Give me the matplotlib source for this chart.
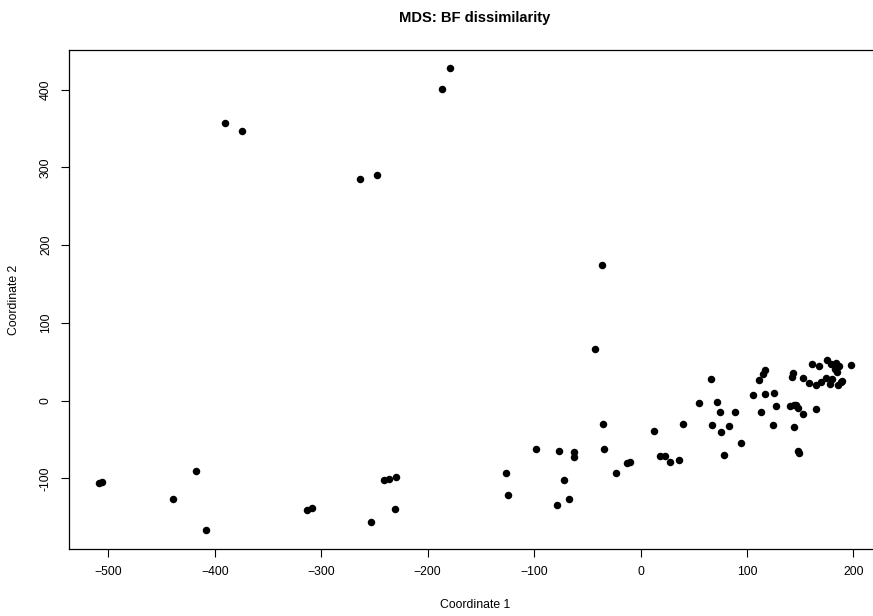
import matplotlib
matplotlib.use("Agg")
import matplotlib.pyplot as plt

# ---- MDS coordinates ----
coord1 = [-508.5, -506.0, -417.5, -439.0, -408.5, -313.0, -308.7, -253.0, -241.0, -236.7,
          -229.6, -230.8, -390.4, -374.7, -263.4, -247.7, -186.4, -179.4, -36.0, -43.0,
          -34.8, -98.4, -76.5, -62.1, -62.7, -34.3, -126.3, -124.7, -71.5, -66.8,
          -78.4, -23.0, -12.3, -9.5, 12.4, 39.9, 18.7, 23.0, 27.7, 36.5,
          78.8, 66.2, 54.9, 72.2, 74.4, 88.7, 67.1, 82.8, 76.0, 94.1,
          105.6, 111.0, 115.4, 117.0, 116.6, 125.4, 113.5, 127.2, 124.1, 142.0,
          142.9, 152.3, 158.0, 140.1, 143.9, 145.7, 147.9, 152.6, 165.2, 144.1,
          147.6, 149.2, 161.0, 168.0, 174.8, 178.9, 183.6, 187.0, 184.2, 183.0,
          197.7, 165.2, 169.9, 173.9, 180.2, 178.3, 185.2, 189.2, 188.0]
coord2 = [-106.0, -104.0, -91.0, -127.0, -167.0, -140.0, -138.5, -156.5, -101.5, -100.5,
          -98.5, -139.0, 356.6, 347.0, 285.5, 290.5, 401.4, 427.3, 174.0, 67.0,
          -29.5, -62.0, -65.0, -66.3, -72.7, -62.8, -92.8, -121.4, -102.6, -126.6,
          -134.2, -92.8, -80.4, -78.6, -38.5, -30.0, -71.3, -71.3, -78.6, -76.0,
          -69.7, 28.0, -2.6, -1.3, -14.1, -15.0, -31.4, -32.6, -40.2, -54.2,
          7.6, 27.0, 34.1, 39.2, 8.0, 9.7, -14.1, -6.9, -30.8, 30.7,
          35.4, 28.6, 23.0, -6.9, -6.0, -6.0, -9.0, -17.5, -10.3, -34.0,
          -64.9, -67.8, 47.8, 45.2, 52.9, 47.4, 48.2, 44.4, 37.2, 41.1,
          46.2, 20.5, 23.9, 29.8, 28.2, 21.8, 20.5, 25.2, 23.5]

xticks = [-500, -400, -300, -200, -100, 0, 100, 200]
yticks = [-100, 0, 100, 200, 300, 400]

plt.rcParams["font.family"] = ["Liberation Sans", "DejaVu Sans"]
plt.rcParams["axes.unicode_minus"] = True

fig = plt.figure(figsize=(8.73, 6.16), dpi=100)
# right edge of the box runs past the image, like the cropped original
ax = fig.add_axes([0.0794, 0.1088, 0.9297, 0.810])

ax.plot(coord1, coord2, "o", color="black", ms=5.4, mec="black", mew=0)

# R style 4% padding around data range
xmin, xmax = min(coord1), max(coord1)
ymin, ymax = min(coord2), max(coord2)
dx, dy = (xmax - xmin) * 0.04, (ymax - ymin) * 0.04
ax.set_xlim(xmin - dx, xmax + dx)
ax.set_ylim(ymin - dy, ymax + dy)

ax.set_xticks(xticks)
ax.set_yticks(yticks)
ax.set_yticklabels([str(v) for v in yticks], rotation=90, va="center")
ax.tick_params(direction="out", length=5.5, width=0.8, labelsize=8.8, pad=7)
for s in ax.spines.values():
    s.set_linewidth(0.9)
ax.spines["right"].set_visible(False)

# title placed in figure pixels to match the original
fig.text(0.544, 1 - 18 / 616, "MDS: BF dissimilarity", fontsize=10.6,
         fontweight="bold", ha="center", va="center")
ax.set_xlabel("Coordinate 1", fontsize=8.8)
ax.set_ylabel("Coordinate 2", fontsize=8.8)
ax.xaxis.set_label_coords(0.5, -0.112)
ax.xaxis.label.set_va("center")
ax.yaxis.set_label_coords(-0.068, 0.5)
ax.yaxis.label.set_va("center")

fig.savefig("out.png", dpi=100)
